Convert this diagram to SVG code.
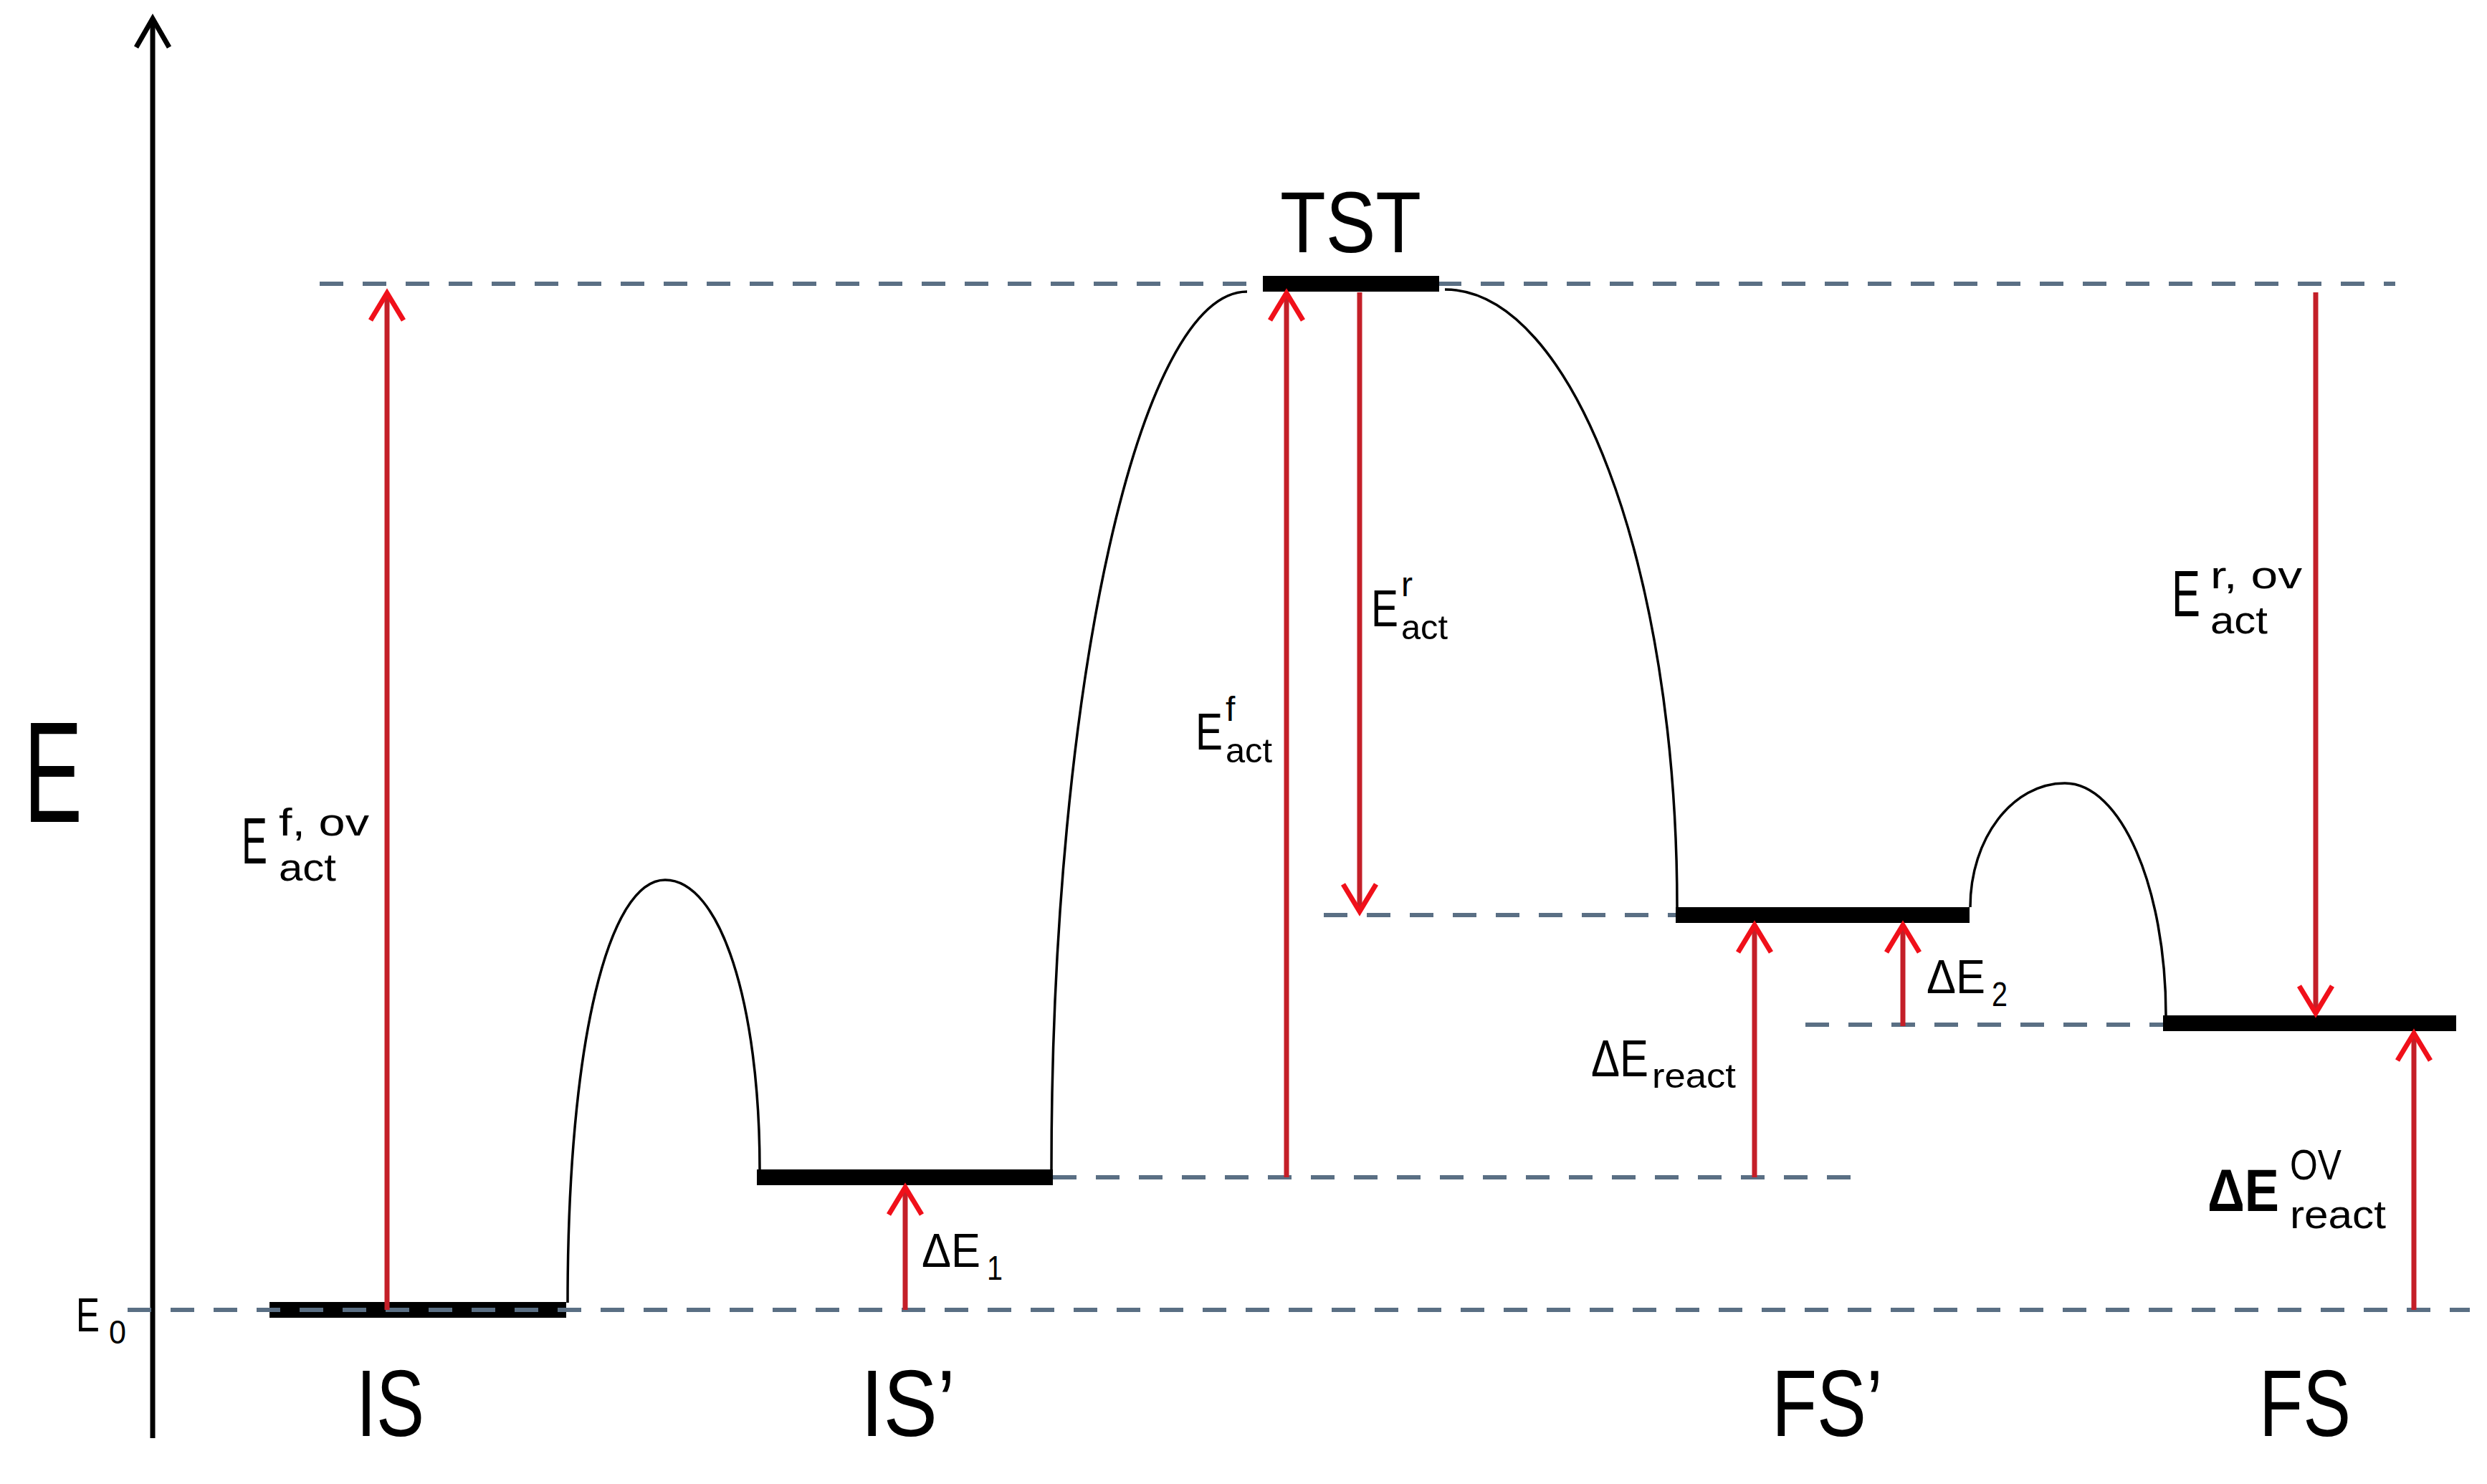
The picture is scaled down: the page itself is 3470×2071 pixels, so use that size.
<svg xmlns="http://www.w3.org/2000/svg" width="3470" height="2071" viewBox="0 0 3470 2071">
<style>
text{font-family:"Liberation Sans",Arial,sans-serif;fill:#000}
.dash{stroke:#5a6f84;stroke-width:6;stroke-dasharray:33 27;fill:none}
.bar{fill:#000}
.curve{stroke:#000;stroke-width:3.5;fill:none}
.red{stroke:#c41f28;stroke-width:7;fill:none;marker-end:url(#ah)}
.axis{stroke:#000;stroke-width:7;fill:none;marker-end:url(#axh)}
.big{font-size:132px}
.lab{font-size:72px}
.lab2{font-size:67px}
.sub{font-size:48px}
.ovm{font-size:91px}
.ovs{font-size:54px}
</style>
<defs>
<marker id="ah" markerUnits="userSpaceOnUse" viewBox="-50 -30 60 60" markerWidth="60" markerHeight="60" refX="0" refY="0" orient="auto" overflow="visible">
<path d="M -38 -23 L 0 0 L -38 23" fill="none" stroke="#f0101a" stroke-width="7"/>
</marker>
<marker id="axh" markerUnits="userSpaceOnUse" viewBox="-50 -30 60 60" markerWidth="60" markerHeight="60" refX="0" refY="0" orient="auto" overflow="visible">
<path d="M -40 -23 L 0 0 L -40 23" fill="none" stroke="#000" stroke-width="7"/>
</marker>
</defs>
<rect width="3470" height="2071" fill="#fff"/>

<g id="axis">
<path class="axis" d="M 213 2007 V 26"/>
<text x="33" y="1147" font-size="200" textLength="82" lengthAdjust="spacingAndGlyphs">E</text>
<text x="106" y="1858" font-size="66"><tspan textLength="33" lengthAdjust="spacingAndGlyphs">E</tspan><tspan x="152" y="1875" font-size="46" textLength="24" lengthAdjust="spacingAndGlyphs">0</tspan></text>
</g>

<g id="connectors">
<path class="dash" d="M 446 396 H 3342"/>
<path class="dash" d="M 1469 1643 H 2583"/>
<path class="dash" d="M 1847 1277 H 2338"/>
<path class="dash" d="M 2519 1430 H 3018"/>
<path class="curve" d="M 792 1818 C 792 1450 850 1228 928 1228 C 1005 1228 1060 1400 1060 1632"/>
<path class="curve" d="M 1467 1632 C 1467 955 1590 407 1740 407"/>
<path class="curve" d="M 2016 404 C 2194 404 2340 790 2340 1266"/>
<path class="curve" d="M 2749 1266 C 2749 1170 2808 1093 2881 1093 C 2959 1093 3022 1238 3022 1417"/>
</g>

<g id="IS">
<rect class="bar" x="376" y="1817" width="414" height="22"/>
<text class="big" x="497" y="2004" textLength="95" lengthAdjust="spacingAndGlyphs">IS</text>
</g>
<g id="IS_prime">
<rect class="bar" x="1056" y="1632" width="413" height="22"/>
<text class="big" x="1201" y="2004" textLength="132" lengthAdjust="spacingAndGlyphs">IS’</text>
</g>
<g id="TST">
<rect class="bar" x="1762" y="385" width="246" height="22"/>
<text x="1786" y="352" font-size="120" textLength="197" lengthAdjust="spacingAndGlyphs">TST</text>
</g>
<g id="FS_prime">
<rect class="bar" x="2338" y="1266" width="410" height="22"/>
<text class="big" x="2472" y="2004" textLength="155" lengthAdjust="spacingAndGlyphs">FS’</text>
</g>
<g id="FS">
<rect class="bar" x="3018" y="1417" width="409" height="22"/>
<text class="big" x="3152" y="2004" textLength="128" lengthAdjust="spacingAndGlyphs">FS</text>
</g>

<g id="baseline">
<path class="dash" d="M 178 1828 H 3446"/>
</g>

<g id="arrows">
<path class="red" d="M 540 1828 V 409"/>
<path class="red" d="M 1263 1828 V 1657"/>
<path class="red" d="M 1795 1643 V 409"/>
<path class="red" d="M 1897 408 V 1272"/>
<path class="red" d="M 2448 1643 V 1291"/>
<path class="red" d="M 2655 1432 V 1291"/>
<path class="red" d="M 3231 408 V 1414"/>
<path class="red" d="M 3368 1828 V 1442"/>
</g>

<g id="labels">
<text class="ovm" x="337" y="1205"><tspan textLength="36" lengthAdjust="spacingAndGlyphs">E</tspan><tspan class="ovs" x="389" y="1166" textLength="126" lengthAdjust="spacingAndGlyphs">f, ov</tspan><tspan class="ovs" x="389" y="1229" textLength="80" lengthAdjust="spacingAndGlyphs">act</tspan></text>

<text class="lab2" x="1286" y="1768"><tspan textLength="82" lengthAdjust="spacingAndGlyphs">ΔE</tspan><tspan class="sub" x="1377" y="1786" textLength="22" lengthAdjust="spacingAndGlyphs">1</tspan></text>

<text class="lab" x="1668" y="1046"><tspan textLength="38" lengthAdjust="spacingAndGlyphs">E</tspan><tspan class="sub" x="1710" y="1006">f</tspan><tspan class="sub" x="1710" y="1064" textLength="65" lengthAdjust="spacingAndGlyphs">act</tspan></text>

<text class="lab" x="1913" y="874"><tspan textLength="38" lengthAdjust="spacingAndGlyphs">E</tspan><tspan class="sub" x="1955" y="832">r</tspan><tspan class="sub" x="1955" y="892" textLength="65" lengthAdjust="spacingAndGlyphs">act</tspan></text>

<text class="lab" x="2220" y="1502"><tspan textLength="80" lengthAdjust="spacingAndGlyphs">ΔE</tspan><tspan class="sub" x="2305" y="1518" textLength="117" lengthAdjust="spacingAndGlyphs">react</tspan></text>

<text class="lab2" x="2688" y="1386"><tspan textLength="82" lengthAdjust="spacingAndGlyphs">ΔE</tspan><tspan class="sub" x="2779" y="1404" textLength="22" lengthAdjust="spacingAndGlyphs">2</tspan></text>

<text class="ovm" x="3030" y="860"><tspan textLength="40" lengthAdjust="spacingAndGlyphs">E</tspan><tspan class="ovs" x="3084" y="821" textLength="128" lengthAdjust="spacingAndGlyphs">r, ov</tspan><tspan class="ovs" x="3084" y="884" textLength="80" lengthAdjust="spacingAndGlyphs">act</tspan></text>

<text x="3080" y="1690" font-size="84"><tspan font-weight="bold" textLength="100" lengthAdjust="spacingAndGlyphs">ΔE</tspan><tspan x="3195" y="1646" font-size="60" textLength="72" lengthAdjust="spacingAndGlyphs">OV</tspan><tspan x="3195" y="1714" font-size="56" textLength="134" lengthAdjust="spacingAndGlyphs">react</tspan></text>
</g>
</svg>
